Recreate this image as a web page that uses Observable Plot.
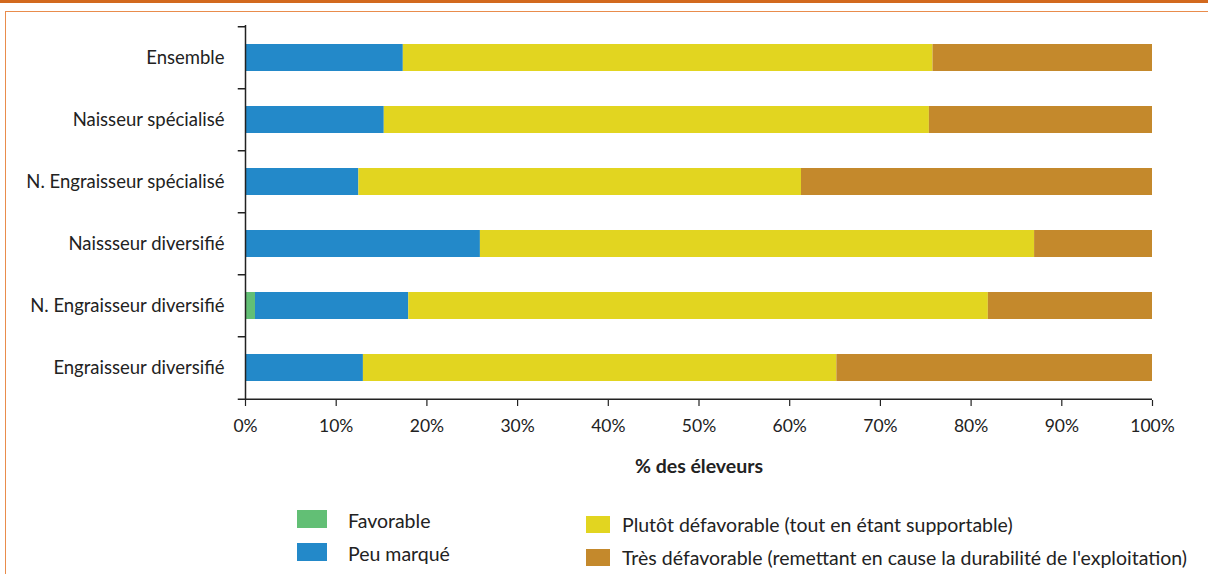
<!DOCTYPE html>
<html>
<head>
<meta charset="utf-8">
<script src="https://cdn.jsdelivr.net/npm/d3@7"></script>
<script src="https://cdn.jsdelivr.net/npm/@observablehq/plot@0.6"></script>
<style>
  html, body { margin: 0; padding: 0; background: #fff; }
  #wrap { position: relative; width: 1208px; height: 574px; overflow: hidden; font-family: Lato, "Open Sans", sans-serif; color: #222; }
  #topbar { position: absolute; left: 0; top: 0; width: 1208px; height: 3px; background: #D2691E; }
  #frame { position: absolute; left: 5px; top: 11px; width: 1300px; height: 700px; border: 1.5px solid #E98C4C; box-sizing: border-box; }
  #chart { position: absolute; left: 0; top: 0; }
  .sw { position: absolute; }
  .lt { position: absolute; font-size: 19.5px; line-height: 22px; white-space: nowrap; }
</style>
</head>
<body>
<div id="wrap">
  <div id="topbar"></div>
  <div id="frame"></div>
  <div id="chart"></div>
  <div id="legend"></div>
</div>
<script>
const categories = ["Ensemble", "Naisseur spécialisé", "N. Engraisseur spécialisé", "Naissseur diversifié", "N. Engraisseur diversifié", "Engraisseur diversifié"];
const seriesNames = ["Favorable", "Peu marqué", "Plutôt défavorable (tout en étant supportable)", "Très défavorable (remettant en cause la durabilité de l'exploitation)"];
const seriesColors = ["#62BF75", "#2389C9", "#E2D520", "#C4892C"];
const favorable = [0, 0, 0, 0, 1.1, 0];
const peuMarque = [17.4, 15.3, 12.5, 25.9, 16.9, 13.0];
const plutotDefavorable = [58.4, 60.1, 48.8, 61.1, 63.9, 52.2];
const tresDefavorable = [24.2, 24.6, 38.7, 13.0, 18.1, 34.8];
const xTicks = [0, 10, 20, 30, 40, 50, 60, 70, 80, 90, 100];
const axisTitle = "% des éleveurs";

const seriesValues = [favorable, peuMarque, plutotDefavorable, tresDefavorable];
const data = [];
categories.forEach((c, i) => {
  seriesValues.forEach((vals, s) => {
    data.push({category: c, series: seriesNames[s], value: vals[i]});
  });
});

const W = 1208, H = 500, mTop = 25, mBottom = 100, mLeft = 245, mRight = 56;
const step = (H - mTop - mBottom) / categories.length;
const last = categories[categories.length - 1];

const chart = Plot.plot({
  width: W,
  height: H,
  marginTop: mTop,
  marginBottom: mBottom,
  marginLeft: mLeft,
  marginRight: mRight,
  style: {fontFamily: "Lato, 'Open Sans', sans-serif", fontSize: "16px", color: "#222", background: "transparent"},
  x: {domain: [0, 100]},
  y: {domain: categories, paddingInner: 0.57, paddingOuter: 0.285, align: 0.5},
  color: {domain: seriesNames, range: seriesColors},
  marks: [
    Plot.barX(data, Plot.stackX({x: "value", y: "category", fill: "series", order: seriesNames})),
    Plot.axisY({tickSize: 0, tickPadding: 21, label: null, fontSize: 18.5}),
    Plot.axisX({ticks: xTicks, tickFormat: d => d + "%", tickSize: 6, tickPadding: 13, label: null, stroke: "#222", strokeWidth: 1.2, fontSize: 17.5}),
    Plot.ruleX([0], {stroke: "#222", strokeWidth: 1.5}),
    Plot.ruleY(categories, {y: d => d, x1: -0.8, x2: 0, dy: -step / 2, stroke: "#222", strokeWidth: 1.5}),
    Plot.ruleY([last], {y: d => d, x1: -0.8, x2: 100, dy: step / 2, stroke: "#222", strokeWidth: 1.5}),
    Plot.text([axisTitle], {frameAnchor: "bottom", dy: 72, fontWeight: "bold", fontSize: 19.5, fill: "#222"})
  ]
});
document.getElementById("chart").appendChild(chart);

// Legend
const legend = document.getElementById("legend");
const legendItems = [
  {sx: 297, sy: 510, sw: 30, sh: 18, tx: 348, ty: 510},
  {sx: 297, sy: 543, sw: 30, sh: 18, tx: 348, ty: 543},
  {sx: 586, sy: 516, sw: 24, sh: 17, tx: 622, ty: 514},
  {sx: 586, sy: 549, sw: 24, sh: 17, tx: 622, ty: 547}
];
legendItems.forEach((p, i) => {
  const sq = document.createElement("div");
  sq.className = "sw";
  sq.style.left = p.sx + "px"; sq.style.top = p.sy + "px";
  sq.style.width = p.sw + "px"; sq.style.height = p.sh + "px";
  sq.style.background = seriesColors[i];
  legend.appendChild(sq);
  const t = document.createElement("div");
  t.className = "lt";
  t.style.left = p.tx + "px"; t.style.top = p.ty + "px";
  t.textContent = seriesNames[i];
  legend.appendChild(t);
});
</script>
</body>
</html>
